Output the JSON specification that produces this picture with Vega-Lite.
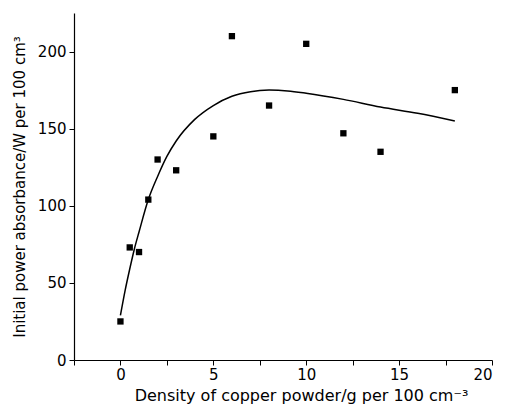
{
  "$schema": "https://vega.github.io/schema/vega-lite/v6.json",
  "width": 418,
  "height": 347,
  "autosize": "none",
  "padding": {"left": 74, "top": 13, "right": 13, "bottom": 45},
  "background": "white",
  "config": {
    "view": {"stroke": null},
    "font": "DejaVu Sans",
    "axis": {
      "grid": false,
      "domainColor": "black",
      "tickColor": "black",
      "labelColor": "black",
      "titleColor": "black",
      "labelFont": "DejaVu Sans",
      "titleFont": "DejaVu Sans",
      "labelFontSize": 15,
      "titleFontSize": 15,
      "titleFontWeight": "normal",
      "tickSize": 5,
      "domainWidth": 1.2,
      "tickWidth": 1
    }
  },
  "datasets": {
    "points": [
      {"x": 0, "y": 25},
      {"x": 0.5, "y": 73},
      {"x": 1, "y": 70},
      {"x": 1.5, "y": 104},
      {"x": 2, "y": 130},
      {"x": 3, "y": 123},
      {"x": 5, "y": 145},
      {"x": 6, "y": 210},
      {"x": 8, "y": 165},
      {"x": 10, "y": 205},
      {"x": 12, "y": 147},
      {"x": 14, "y": 135},
      {"x": 18, "y": 175}
    ],
    "curve": [
      {"x": 0, "y": 29},
      {"x": 0.25, "y": 45},
      {"x": 0.5, "y": 59},
      {"x": 0.75, "y": 72},
      {"x": 1, "y": 83},
      {"x": 1.5, "y": 104},
      {"x": 2, "y": 119},
      {"x": 2.5, "y": 132},
      {"x": 3, "y": 142},
      {"x": 4, "y": 156},
      {"x": 5, "y": 165},
      {"x": 6, "y": 171},
      {"x": 7, "y": 174},
      {"x": 8, "y": 175},
      {"x": 9, "y": 174.5},
      {"x": 10, "y": 173},
      {"x": 12, "y": 169},
      {"x": 14, "y": 164},
      {"x": 16, "y": 160},
      {"x": 18, "y": 155}
    ]
  },
  "layer": [
    {
      "data": {"name": "curve"},
      "mark": {"type": "line", "color": "black", "strokeWidth": 1.5, "interpolate": "monotone"},
      "encoding": {
        "x": {
          "field": "x", "type": "quantitative",
          "scale": {"domain": [-2.5, 20], "nice": false, "zero": false},
          "axis": {
            "title": "Density of copper powder/g per 100 cm⁻³",
            "values": [-2.5, 0, 2.5, 5, 7.5, 10, 12.5, 15, 17.5, 20],
            "labelExpr": "datum.value % 5 == 0 ? datum.label : ''",
            "labelPadding": 2,
            "titlePadding": 5,
            "titleFontSize": 16,
            "titleX": 227
          }
        },
        "y": {
          "field": "y", "type": "quantitative",
          "scale": {"domain": [0, 225], "nice": false},
          "axis": {
            "title": "Initial power absorbance/W per 100 cm³",
            "values": [0, 25, 50, 75, 100, 125, 150, 175, 200, 225],
            "labelExpr": "datum.value % 50 == 0 && datum.value < 225 ? datum.label : ''",
            "labelPadding": 3,
            "titlePadding": 10
          }
        }
      }
    },
    {
      "data": {"name": "points"},
      "mark": {"type": "point", "shape": "square", "filled": true, "color": "black", "size": 40, "opacity": 1},
      "encoding": {
        "x": {"field": "x", "type": "quantitative"},
        "y": {"field": "y", "type": "quantitative"}
      }
    }
  ]
}
